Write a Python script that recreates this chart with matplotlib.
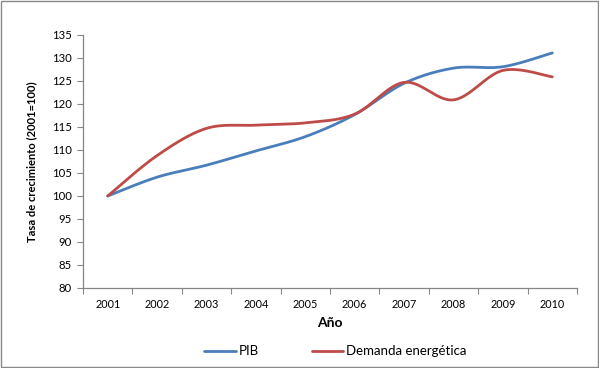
import numpy as np
import matplotlib.pyplot as plt
from matplotlib.patches import Rectangle

plt.rcParams['font.family'] = ['Lato', 'DejaVu Sans']

years = ['2001', '2002', '2003', '2004', '2005', '2006', '2007', '2008', '2009', '2010']
pib = [100, 104.1, 106.7, 109.8, 112.9, 117.7, 124.5, 127.8, 128.1, 131.1]
demanda = [100, 108.8, 114.7, 115.4, 115.9, 117.8, 124.7, 120.9, 127.3, 125.9]


def smooth(x, y, n=30):
    # Catmull-Rom style curve through the points, like Excel's smoothed lines
    x = np.asarray(x, float)
    y = np.asarray(y, float)
    px = np.concatenate([[x[0]], x, [x[-1]]])
    py = np.concatenate([[y[0]], y, [y[-1]]])
    xs, ys = [], []
    t = np.linspace(0, 1, n)
    for i in range(1, len(px) - 2):
        p0, p1, p2, p3 = py[i - 1], py[i], py[i + 1], py[i + 2]
        q0, q1, q2, q3 = px[i - 1], px[i], px[i + 1], px[i + 2]
        for a, b, c, d, out in ((q0, q1, q2, q3, xs), (p0, p1, p2, p3, ys)):
            m1 = (c - a) / 2
            m2 = (d - b) / 2
            h00 = 2 * t**3 - 3 * t**2 + 1
            h10 = t**3 - 2 * t**2 + t
            h01 = -2 * t**3 + 3 * t**2
            h11 = t**3 - t**2
            out.extend(h00 * b + h10 * m1 + h01 * c + h11 * m2)
    return xs, ys


x = np.arange(1, len(years) + 1)

fig = plt.figure(figsize=(5.99, 3.68), dpi=100)
ax = fig.add_axes([0.1386, 0.2174, 0.8247, 0.6875])

ax.plot(*smooth(x, pib), color='#4A7EBB', lw=2.0, label='PIB', solid_capstyle='round')
ax.plot(*smooth(x, demanda), color='#BE4B48', lw=2.0, label='Demanda energética',
        solid_capstyle='round')

ax.set_xlim(0.5, len(years) + 0.5)
ax.set_ylim(80, 135)
ax.set_yticks(range(80, 136, 5))
ax.set_xticks(np.arange(0.5, len(years) + 1, 1))
ax.set_xticklabels([])
ax.set_xticks(x, minor=True)
ax.set_xticklabels(years, minor=True)
ax.tick_params(axis='x', which='minor', length=0, pad=8)
ax.tick_params(axis='x', which='major', length=4, color='#868686', direction='out')
ax.tick_params(axis='y', length=4, color='#868686', direction='out', pad=4)
ax.tick_params(axis='y', labelsize=8.2)
ax.tick_params(axis='x', which='minor', labelsize=7.8)

for s in ['top', 'right']:
    ax.spines[s].set_visible(False)
for s in ['left', 'bottom']:
    ax.spines[s].set_color('#868686')
    ax.spines[s].set_linewidth(0.9)

ax.set_xlabel('Año', fontsize=10, fontweight='bold', labelpad=5)
ax.set_ylabel('Tasa de crecimiento (2001=100)', fontsize=8, fontweight='bold', labelpad=11)

fig.legend(loc='center', bbox_to_anchor=(0.56, 0.045), ncol=2, frameon=False,
           fontsize=9.5, handlelength=2.4, handletextpad=0.2, columnspacing=4)

fig.add_artist(Rectangle((0.001, 0.002), 0.997, 0.995, transform=fig.transFigure,
                         fill=False, edgecolor='#888888', lw=1))

fig.savefig('out.png', dpi=100)
